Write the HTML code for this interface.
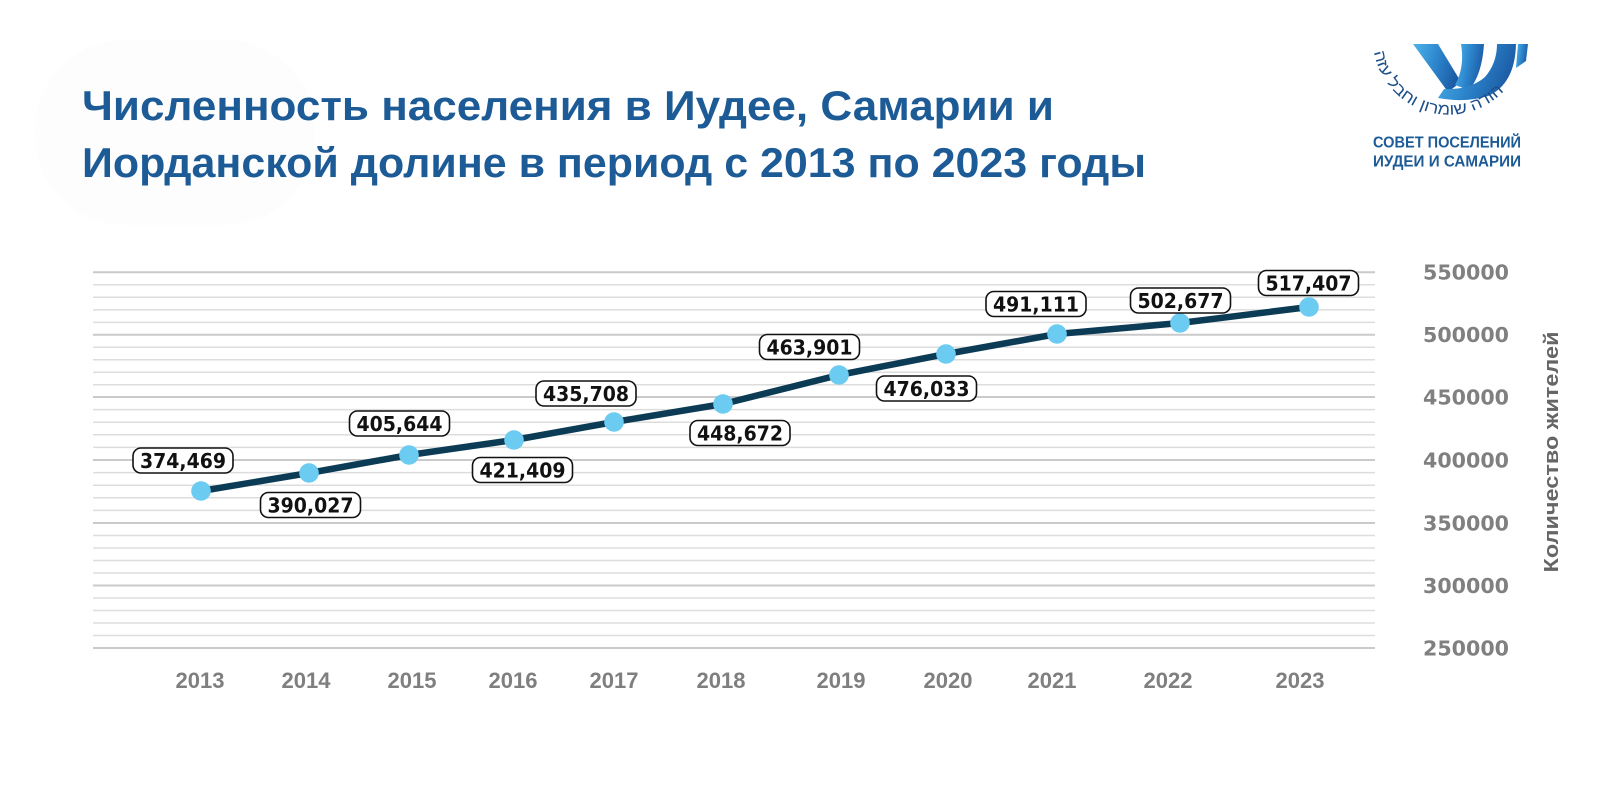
<!DOCTYPE html>
<html>
<head>
<meta charset="utf-8">
<style>
html,body{margin:0;padding:0;background:#fff;}
svg{display:block;}
</style>
</head>
<body>
<svg width="1600" height="802" viewBox="0 0 1600 802" xmlns="http://www.w3.org/2000/svg">
  <defs>
    <linearGradient id="lg" x1="0" y1="0" x2="1" y2="0.3">
      <stop offset="0" stop-color="#4fb4ea"/>
      <stop offset="0.55" stop-color="#2c85cc"/>
      <stop offset="1" stop-color="#1c5ca5"/>
    </linearGradient>
    <path id="arc" d="M 1374,52 A 76 76 0 0 0 1503,92"/>
  </defs>

  <rect width="1600" height="802" fill="#fff"/>
  <rect x="35" y="40" width="280" height="185" rx="90" fill="#fdfdfd"/>

  <!-- Title -->
  <g font-family="'Liberation Sans', sans-serif" font-weight="bold" font-size="42" fill="#1d5b96">
    <text x="82" y="120" textLength="972" lengthAdjust="spacingAndGlyphs">Численность населения в Иудее, Самарии и</text>
    <text x="82" y="177" textLength="1064" lengthAdjust="spacingAndGlyphs">Иорданской долине в период с 2013 по 2023 годы</text>
  </g>

  <!-- Logo -->
  <g fill="url(#lg)" transform="translate(0,5)">
    <path d="M1413,39 L1438,39 L1461,77 L1448,87 Z"/>
    <path d="M1461,39 L1484,39 Q1482,70 1469,85 L1455,80 Q1465,62 1461,39 Z"/>
    <path d="M1497,39 L1516,39 Q1515,79 1488,91 Q1465,98 1438,93 L1444,84 Q1470,85 1485,72 Q1497,58 1497,39 Z"/>
    <path d="M1518,39 L1528,39 L1526,56 L1516,63 Z"/>
  </g>
  <text font-family="'Liberation Sans','DejaVu Sans',sans-serif" font-size="16" fill="#1d4f8a" direction="ltr">
    <textPath href="#arc" textLength="172" lengthAdjust="spacingAndGlyphs">יהודה שומרון וחבל עזה</textPath>
  </text>
  <g font-family="'Liberation Sans', sans-serif" font-weight="bold" font-size="16" fill="#1d5b96" text-anchor="middle">
    <text x="1447" y="147.5" textLength="148" lengthAdjust="spacingAndGlyphs">СОВЕТ ПОСЕЛЕНИЙ</text>
    <text x="1447" y="166.5" textLength="148" lengthAdjust="spacingAndGlyphs">ИУДЕИ И САМАРИИ</text>
  </g>

  <!-- Gridlines -->
  <g id="grid">
    <g stroke="#dddddd" stroke-width="1.5">
      <line x1="93" x2="1375" y1="284.8" y2="284.8"/><line x1="93" x2="1375" y1="297.3" y2="297.3"/><line x1="93" x2="1375" y1="309.9" y2="309.9"/><line x1="93" x2="1375" y1="322.4" y2="322.4"/>
      <line x1="93" x2="1375" y1="347.2" y2="347.2"/><line x1="93" x2="1375" y1="359.7" y2="359.7"/><line x1="93" x2="1375" y1="372.2" y2="372.2"/><line x1="93" x2="1375" y1="384.7" y2="384.7"/>
      <line x1="93" x2="1375" y1="409.6" y2="409.6"/><line x1="93" x2="1375" y1="422.2" y2="422.2"/><line x1="93" x2="1375" y1="434.8" y2="434.8"/><line x1="93" x2="1375" y1="447.4" y2="447.4"/>
      <line x1="93" x2="1375" y1="472.6" y2="472.6"/><line x1="93" x2="1375" y1="485.2" y2="485.2"/><line x1="93" x2="1375" y1="497.8" y2="497.8"/><line x1="93" x2="1375" y1="510.4" y2="510.4"/>
      <line x1="93" x2="1375" y1="535.5" y2="535.5"/><line x1="93" x2="1375" y1="548" y2="548"/><line x1="93" x2="1375" y1="560.5" y2="560.5"/><line x1="93" x2="1375" y1="573" y2="573"/>
      <line x1="93" x2="1375" y1="598" y2="598"/><line x1="93" x2="1375" y1="610.5" y2="610.5"/><line x1="93" x2="1375" y1="623" y2="623"/><line x1="93" x2="1375" y1="635.5" y2="635.5"/>
    </g>
    <g stroke="#cacaca" stroke-width="2">
      <line x1="93" x2="1375" y1="272.3" y2="272.3"/>
      <line x1="93" x2="1375" y1="334.7" y2="334.7"/>
      <line x1="93" x2="1375" y1="397" y2="397"/>
      <line x1="93" x2="1375" y1="460" y2="460"/>
      <line x1="93" x2="1375" y1="523" y2="523"/>
      <line x1="93" x2="1375" y1="585.5" y2="585.5"/>
      <line x1="93" x2="1375" y1="648" y2="648"/>
    </g>
  </g>

  <!-- Y axis labels -->
  <g font-family="'DejaVu Sans', sans-serif" font-weight="bold" font-size="20" fill="#808080" text-anchor="middle">
    <text x="1466" y="279.5" textLength="86" lengthAdjust="spacingAndGlyphs">550000</text>
    <text x="1466" y="342" textLength="86" lengthAdjust="spacingAndGlyphs">500000</text>
    <text x="1466" y="404.5" textLength="86" lengthAdjust="spacingAndGlyphs">450000</text>
    <text x="1466" y="467.5" textLength="86" lengthAdjust="spacingAndGlyphs">400000</text>
    <text x="1466" y="530.5" textLength="86" lengthAdjust="spacingAndGlyphs">350000</text>
    <text x="1466" y="593" textLength="86" lengthAdjust="spacingAndGlyphs">300000</text>
    <text x="1466" y="655.5" textLength="86" lengthAdjust="spacingAndGlyphs">250000</text>
  </g>

  <!-- Y axis title -->
  <text transform="translate(1558,452) rotate(-90)" font-family="'Liberation Sans', sans-serif" font-weight="bold" font-size="20" fill="#666666" text-anchor="middle" textLength="241" lengthAdjust="spacingAndGlyphs">Количество жителей</text>

  <!-- X axis labels -->
  <g font-family="'Liberation Sans', sans-serif" font-weight="bold" font-size="22" fill="#7f7f7f" text-anchor="middle">
    <text x="200" y="688">2013</text>
    <text x="306" y="688">2014</text>
    <text x="412" y="688">2015</text>
    <text x="513" y="688">2016</text>
    <text x="614" y="688">2017</text>
    <text x="721" y="688">2018</text>
    <text x="841" y="688">2019</text>
    <text x="948" y="688">2020</text>
    <text x="1052" y="688">2021</text>
    <text x="1168" y="688">2022</text>
    <text x="1300" y="688">2023</text>
  </g>

  <!-- Series line -->
  <polyline fill="none" stroke="#0c3c55" stroke-width="6.5" stroke-linejoin="round" stroke-linecap="round"
    points="201,491 309,473 409,455 514,440 614,422 723,404 839,375 946,354 1057,334 1180,323 1309,307"/>
  <g fill="#6ccbf1">
    <circle cx="201" cy="491" r="9.8"/>
    <circle cx="309" cy="473" r="9.8"/>
    <circle cx="409" cy="455" r="9.8"/>
    <circle cx="514" cy="440" r="9.8"/>
    <circle cx="614" cy="422" r="9.8"/>
    <circle cx="723" cy="404" r="9.8"/>
    <circle cx="839" cy="375" r="9.8"/>
    <circle cx="946" cy="354" r="9.8"/>
    <circle cx="1057" cy="334" r="9.8"/>
    <circle cx="1180" cy="323" r="9.8"/>
    <circle cx="1309" cy="307" r="9.8"/>
  </g>

  <!-- Data labels -->
  <g fill="#fff" stroke="#111" stroke-width="1.6">
    <rect x="133" y="448" width="100" height="25" rx="8"/>
    <rect x="260.5" y="492.5" width="100" height="25" rx="8"/>
    <rect x="349.5" y="411" width="100" height="25" rx="8"/>
    <rect x="472.5" y="457.5" width="100" height="25" rx="8"/>
    <rect x="536" y="381" width="100" height="25" rx="8"/>
    <rect x="690" y="420.5" width="100" height="25" rx="8"/>
    <rect x="759.5" y="334.5" width="100" height="25" rx="8"/>
    <rect x="876.5" y="376" width="100" height="25" rx="8"/>
    <rect x="986" y="291.5" width="100" height="25" rx="8"/>
    <rect x="1130.5" y="288" width="100" height="25" rx="8"/>
    <rect x="1258.5" y="270.5" width="100" height="25" rx="8"/>
  </g>
  <g font-family="'DejaVu Sans', sans-serif" font-weight="bold" font-size="20.5" fill="#111" text-anchor="middle">
    <text x="183" y="468" textLength="86" lengthAdjust="spacingAndGlyphs">374,469</text>
    <text x="310.5" y="512.5" textLength="86" lengthAdjust="spacingAndGlyphs">390,027</text>
    <text x="399.5" y="431" textLength="86" lengthAdjust="spacingAndGlyphs">405,644</text>
    <text x="522.5" y="477.5" textLength="86" lengthAdjust="spacingAndGlyphs">421,409</text>
    <text x="586" y="401" textLength="86" lengthAdjust="spacingAndGlyphs">435,708</text>
    <text x="740" y="440.5" textLength="86" lengthAdjust="spacingAndGlyphs">448,672</text>
    <text x="809.5" y="354.5" textLength="86" lengthAdjust="spacingAndGlyphs">463,901</text>
    <text x="926.5" y="396" textLength="86" lengthAdjust="spacingAndGlyphs">476,033</text>
    <text x="1036" y="311.5" textLength="86" lengthAdjust="spacingAndGlyphs">491,111</text>
    <text x="1180.5" y="308" textLength="86" lengthAdjust="spacingAndGlyphs">502,677</text>
    <text x="1308.5" y="290.5" textLength="86" lengthAdjust="spacingAndGlyphs">517,407</text>
  </g>
</svg>
</body>
</html>
